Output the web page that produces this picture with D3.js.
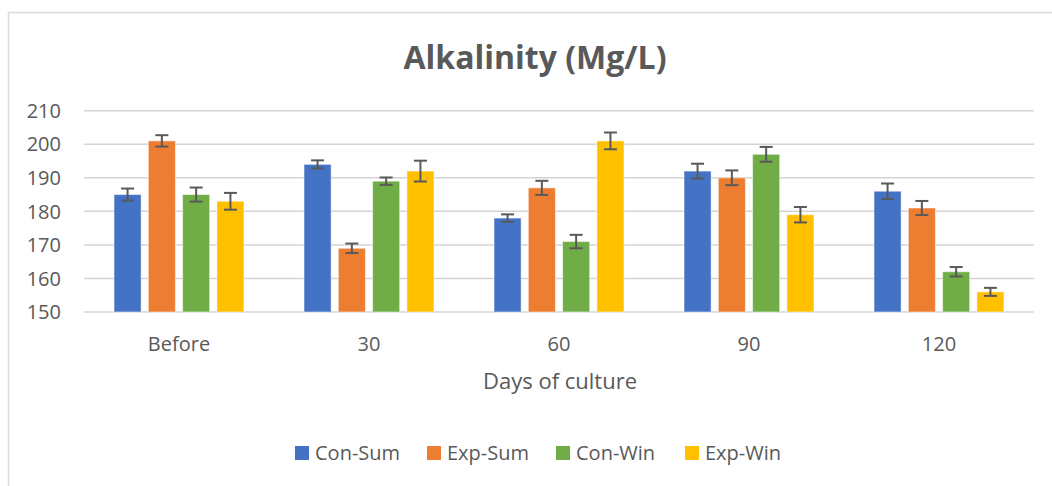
<!DOCTYPE html>
<html>
<head>
<meta charset="utf-8">
<script src="https://cdn.jsdelivr.net/npm/d3@7"></script>
<style>
  body { margin: 0; background: #fff; }
  text { font-family: "Open Sans", sans-serif; fill: #595959; }
</style>
</head>
<body>
<div id="chart"></div>
<script>
// categories and series
var days = ["Before", "30", "60", "90", "120"];
var seriesNames = ["Con-Sum", "Exp-Sum", "Con-Win", "Exp-Win"];
var conSum = [185, 194, 178, 192, 186];
var expSum = [201, 169, 187, 190, 181];
var conWin = [185, 189, 171, 197, 162];
var expWin = [183, 192, 201, 179, 156];
// error (+/-)
var conSumErr = [1.8, 1.2, 1.1, 2.2, 2.3];
var expSumErr = [1.7, 1.4, 2.1, 2.2, 2.1];
var conWinErr = [2.1, 1.1, 2.0, 2.2, 1.4];
var expWinErr = [2.5, 3.1, 2.5, 2.3, 1.2];
var yTicks = [150, 160, 170, 180, 190, 200, 210];
var colors = ["#4472C4", "#ED7D31", "#70AD47", "#FFC000"];

var W = 1052, H = 486;
var margin = {top: 110.7, right: 18, bottom: 174, left: 84};

var svg = d3.select("#chart").append("svg")
    .attr("width", W)
    .attr("height", H);

// chart frame
svg.append("rect")
    .attr("x", 8.5).attr("y", 12.5)
    .attr("width", W + 10).attr("height", H + 10)
    .attr("fill", "none")
    .attr("stroke", "#D9D9D9")
    .attr("stroke-width", 1.5);

var x0 = d3.scaleBand()
    .domain(days)
    .range([margin.left, W - margin.right])
    .paddingInner(0.316)
    .paddingOuter(0.158);

var x1 = d3.scaleBand()
    .domain(seriesNames)
    .range([0, x0.bandwidth()])
    .paddingInner(0.21);

var y = d3.scaleLinear()
    .domain([150, 210])
    .range([H - margin.bottom, margin.top]);

// gridlines
svg.append("g").selectAll("line")
  .data(yTicks)
  .enter().append("line")
    .attr("x1", margin.left)
    .attr("x2", W - margin.right)
    .attr("y1", function(d) { return y(d); })
    .attr("y2", function(d) { return y(d); })
    .attr("stroke", "#D4D4D4")
    .attr("stroke-width", 1.5);

// y labels
svg.append("g").selectAll("text")
  .data(yTicks)
  .enter().append("text")
    .attr("x", 61)
    .attr("y", function(d) { return y(d); })
    .attr("dy", "0.36em")
    .attr("text-anchor", "end")
    .style("font-size", "20px")
    .text(function(d) { return d; });

// x labels
svg.append("g").selectAll("text")
  .data(days)
  .enter().append("text")
    .attr("x", function(d) { return x0(d) + x0.bandwidth() / 2; })
    .attr("y", 344)
    .attr("dy", "0.36em")
    .attr("text-anchor", "middle")
    .style("font-size", "20px")
    .text(function(d) { return d; });

var values = [conSum, expSum, conWin, expWin];
var errs = [conSumErr, expSumErr, conWinErr, expWinErr];

var rows = [];
days.forEach(function(day, i) {
  seriesNames.forEach(function(s, j) {
    rows.push({day: day, series: s, value: values[j][i], err: errs[j][i], color: colors[j]});
  });
});

// bars
svg.append("g").selectAll("rect")
  .data(rows)
  .enter().append("rect")
    .attr("x", function(d) { return x0(d.day) + x1(d.series); })
    .attr("y", function(d) { return y(d.value); })
    .attr("width", x1.bandwidth())
    .attr("height", function(d) { return y(150) - y(d.value); })
    .attr("fill", function(d) { return d.color; })
    .attr("stroke", "#fff")
    .attr("stroke-opacity", 0.5)
    .attr("stroke-width", 1);

// error bars
var eb = svg.append("g").selectAll("g")
  .data(rows)
  .enter().append("g")
    .attr("stroke", "#595959")
    .attr("stroke-width", 2);

function cx(d) { return x0(d.day) + x1(d.series) + x1.bandwidth() / 2; }

eb.append("line")
    .attr("x1", cx).attr("x2", cx)
    .attr("y1", function(d) { return y(d.value + d.err); })
    .attr("y2", function(d) { return y(d.value - d.err); });
eb.append("line")
    .attr("x1", function(d) { return cx(d) - 6.5; })
    .attr("x2", function(d) { return cx(d) + 6.5; })
    .attr("y1", function(d) { return y(d.value + d.err); })
    .attr("y2", function(d) { return y(d.value + d.err); });
eb.append("line")
    .attr("x1", function(d) { return cx(d) - 6.5; })
    .attr("x2", function(d) { return cx(d) + 6.5; })
    .attr("y1", function(d) { return y(d.value - d.err); })
    .attr("y2", function(d) { return y(d.value - d.err); });

// title
svg.append("text")
    .attr("x", 535)
    .attr("y", 57)
    .attr("dy", "0.36em")
    .attr("text-anchor", "middle")
    .style("font-size", "32px")
    .style("font-weight", "bold")
    .text("Alkalinity (Mg/L)");

// axis title
svg.append("text")
    .attr("x", 560)
    .attr("y", 381)
    .attr("dy", "0.36em")
    .attr("text-anchor", "middle")
    .style("font-size", "22px")
    .text("Days of culture");

// legend
var legendX = [295, 427, 556, 685];
var legend = svg.append("g").selectAll("g")
  .data(seriesNames)
  .enter().append("g")
    .attr("transform", function(d, i) { return "translate(" + legendX[i] + ",446)"; });

legend.append("rect")
    .attr("width", 14).attr("height", 14)
    .attr("fill", function(d, i) { return colors[i]; });

legend.append("text")
    .attr("x", 20)
    .attr("y", 7)
    .attr("dy", "0.36em")
    .style("font-size", "20px")
    .text(function(d) { return d; });
</script>
</body>
</html>
